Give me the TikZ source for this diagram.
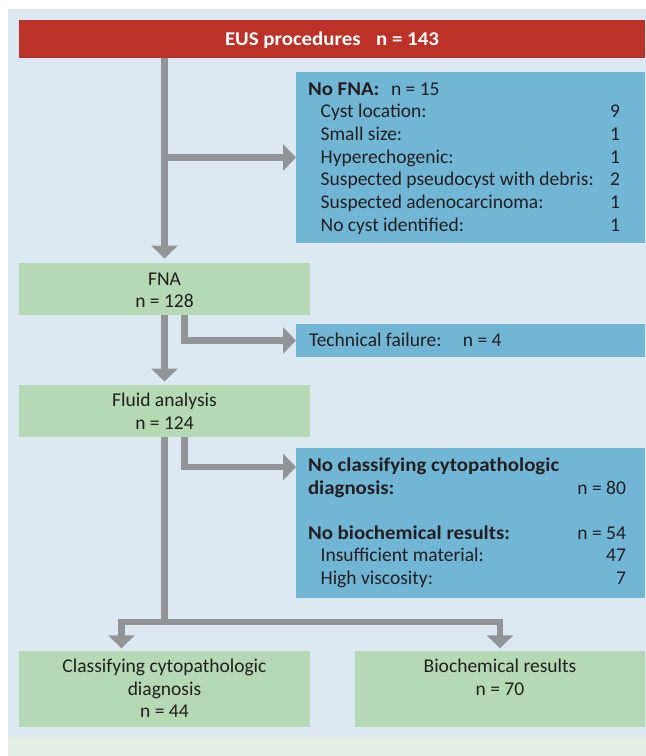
\documentclass[tikz,border=0pt]{standalone}
\usepackage{fontspec}
\setmainfont{Carlito}[BoldFeatures={FakeStretch=1.07}]
\usetikzlibrary{arrows.meta}
\definecolor{panel}{HTML}{DCE9F2}
\definecolor{capgreen}{HTML}{E4F0E3}
\definecolor{redbox}{HTML}{BC3128}
\definecolor{bluebox}{HTML}{72B6D6}
\definecolor{greenbox}{HTML}{B4D9B4}
\definecolor{arrowgray}{HTML}{929497}
\definecolor{ink}{HTML}{231F20}
\begin{document}
\begin{tikzpicture}[x=1pt,y=-1pt,
  box/.style={inner sep=0pt, outer sep=0pt, anchor=north west},
  txt/.style={inner sep=0pt, outer sep=0pt, font=\fontsize{19.5}{22.5}\selectfont, text=ink},
  conn/.style={draw=arrowgray, line width=6.5pt},
  arr/.style={conn, -{Triangle[width=26pt,length=13pt]}}]
\useasboundingbox (0,0) rectangle (646,756);
\fill[white] (0,0) rectangle (646,756);
\fill[panel] (8,9) rectangle (646,737);
\fill[capgreen] (8,737) rectangle (646,756);

% boxes
\node[box, fill=redbox, minimum width=626pt, minimum height=38.5pt] (eus) at (19,19.5) {};
\node[box, fill=bluebox, minimum width=349pt, minimum height=171pt] (nofna) at (296,72) {};
\node[box, fill=greenbox, minimum width=291pt, minimum height=52pt] (fna) at (19,263) {};
\node[box, fill=bluebox, minimum width=349pt, minimum height=33pt] (tech) at (296,324) {};
\node[box, fill=greenbox, minimum width=291pt, minimum height=52pt] (fluid) at (19,385) {};
\node[box, fill=bluebox, minimum width=349pt, minimum height=150pt] (nocyto) at (296,448) {};
\node[box, fill=greenbox, minimum width=291pt, minimum height=76pt] (cyto) at (19,651) {};
\node[box, fill=greenbox, minimum width=290pt, minimum height=76pt] (bio) at (355,651) {};

% texts
\node[txt, text=white, anchor=base] (teus) at (332,45.5) {\bfseries EUS procedures\hspace{0.8em}n = 143};

\node[txt, anchor=base west] (tnofna) at (308,95) {\textbf{No FNA:}\hspace{0.6em}n = 15};
\foreach \lbl/\num [count=\i] in {Cyst location:/9, Small size:/1, Hyperechogenic:/1, Suspected pseudocyst with debris:/2, Suspected adenocarcinoma:/1, No cyst identified:/1} {
  \node[txt, anchor=base west] (nfl\i) at (320.7, 95+22.7*\i) {\lbl};
  \node[txt, anchor=base east] (nfn\i) at (620, 95+22.7*\i) {\num};
}

\node[txt, anchor=base] (tfna1) at (164.5,285.3) {FNA};
\node[txt, anchor=base] (tfna2) at (164.5,307.7) {n = 128};

\node[txt, anchor=base west] (ttech) at (309,346.7) {Technical failure:\hspace{1.1em}n = 4};

\node[txt, anchor=base] (tfl1) at (164.5,406.7) {Fluid analysis};
\node[txt, anchor=base] (tfl2) at (164.5,429.3) {n = 124};

\node[txt, anchor=base west] (tnc1) at (308,471.5) {\bfseries No classifying cytopathologic};
\node[txt, anchor=base west] (tnc2) at (308,494) {\bfseries diagnosis:};
\node[txt, anchor=base east] (tnc3) at (626,494) {n = 80};
\node[txt, anchor=base west] (tnb1) at (308,539) {\bfseries No biochemical results:};
\node[txt, anchor=base east] (tnb2) at (626,539) {n = 54};
\node[txt, anchor=base west] (tnb3) at (320.6,561.5) {Insufficient material:};
\node[txt, anchor=base east] (tnb4) at (626,561.5) {47};
\node[txt, anchor=base west] (tnb5) at (320.6,584) {High viscosity:};
\node[txt, anchor=base east] (tnb6) at (626,584) {7};

\node[txt, anchor=base] (tcy1) at (164.5,672.7) {Classifying cytopathologic};
\node[txt, anchor=base] (tcy2) at (164.5,695.3) {diagnosis};
\node[txt, anchor=base] (tcy3) at (164.5,717.7) {n = 44};
\node[txt, anchor=base] (tbi1) at (500,672.7) {Biochemical results};
\node[txt, anchor=base] (tbi2) at (500,695.3) {n = 70};

% connectors
\draw[arr] (eus.south -| fna.north) -- ([yshift=4.5pt]fna.north);
\draw[arr] (nofna.west -| fna.north) -- (nofna.west);
\draw[arr] (fna.south) -- ([yshift=3.5pt]fluid.north);
\draw[arr] ([xshift=20pt]fna.south) |- (tech.west);
\draw[arr] ([xshift=20pt]fluid.south) |- ([yshift=-19pt]nocyto.north west);
\coordinate (split) at (164.5,622);
\draw[conn] (fluid.south) -- ([yshift=-3.25pt]split);
\draw[arr] (split) -| ([xshift=-43pt,yshift=2.7pt]cyto.north);
\draw[arr] (split) -| ([yshift=2.7pt]bio.north);
\end{tikzpicture}
\end{document}
